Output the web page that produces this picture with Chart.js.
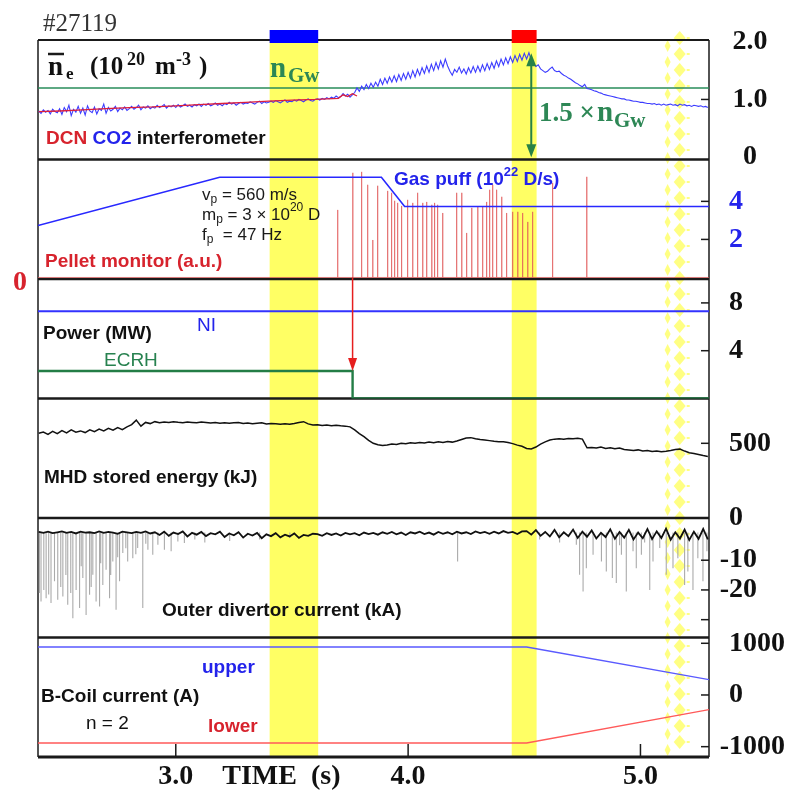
<!DOCTYPE html>
<html>
<head>
<meta charset="utf-8">
<style>
  body { margin: 0; background: #fff; }
  canvas { display: block; }
</style>
</head>
<body>
<canvas id="shot" width="794" height="799"></canvas>

<script src="https://cdn.jsdelivr.net/npm/chart.js"></script>
<script>
  // time window of the shot (s)
  let timeMin = 2.407, timeMax = 5.295;
  let timeTicks = [3, 4, 5];

  // highlighted windows (s)
  let bandStart = [3.404, 4.446];
  let bandEnd = [3.613, 4.553];
  let dotBand = [5.104, 5.212];

  // line density, CO2 interferometer, sampled every 10 ms from 2.41 s
  let co2Start = 2.41, co2Step = 0.01;
  let co2 = [
    0.80,0.76,0.82,0.78,0.81,0.75,0.83,0.79,0.77,0.84,
    0.74,0.86,0.79,0.90,0.72,0.83,0.78,0.88,0.76,0.85,
    0.73,0.89,0.80,0.77,0.87,0.75,0.84,0.81,0.92,0.76,
    0.86,0.80,0.83,0.88,0.79,0.85,0.82,0.87,0.81,0.84,
    0.88,0.83,0.86,0.90,0.82,0.87,0.85,0.89,0.84,0.87,
    0.85,0.90,0.86,0.88,0.91,0.85,0.89,0.87,0.90,0.86,
    0.91,0.87,0.89,0.92,0.88,0.90,0.87,0.91,0.89,0.92,
    0.88,0.92,0.90,0.93,0.89,0.91,0.94,0.90,0.92,0.89,
    0.93,0.91,0.95,0.92,0.94,0.90,0.93,0.95,0.92,0.94,
    0.93,0.96,0.94,0.92,0.95,0.97,0.93,0.96,0.94,0.95,
    0.97,0.95,0.98,0.96,0.94,0.97,0.99,0.95,0.97,0.96,
    0.99,0.97,1.00,0.98,0.96,0.99,1.01,0.98,0.97,1.00,
    1.01,0.99,1.02,1.00,1.03,1.01,1.04,1.02,1.06,1.03,
    1.05,1.10,1.06,1.09,1.04,1.08,
    1.12,1.20,1.14,1.23,1.17,1.26,1.19,1.28,1.21,1.30,
    1.23,1.35,1.26,1.37,1.28,1.39,1.30,1.41,1.31,1.43,
    1.33,1.45,1.35,1.47,1.37,1.50,1.39,1.52,1.42,1.55,
    1.45,1.58,1.47,1.61,1.50,1.64,1.53,1.67,1.56,1.70,
    1.58,1.49,1.42,1.52,1.47,1.56,1.46,1.53,1.44,1.55,
    1.46,1.57,1.47,1.58,1.48,1.60,1.50,1.62,1.52,1.64,
    1.54,1.67,1.57,1.70,1.60,1.72,1.62,1.74,1.64,1.76,
    1.66,1.78,1.68,1.80,1.70,1.81,1.68,1.62,1.57,1.60,
    1.53,
    1.50,1.47,1.49,1.53,1.56,1.50,1.48,1.49,1.45,1.42,
    1.40,1.37,1.35,1.32,1.29,1.27,1.24,1.22,1.26,1.19,
    1.18,1.17,1.15,1.14,1.12,1.11,1.09,1.08,1.07,1.06,
    1.05,1.04,1.03,1.02,1.01,1.01,0.99,0.99,0.98,0.97,
    0.97,0.96,0.95,0.95,0.94,0.93,0.93,0.92,0.93,0.91,
    0.92,0.90,0.92,0.90,0.91,0.92,0.90,0.91,0.89,0.92,
    0.90,0.91,0.89,0.90,0.88,0.90,0.89,0.88,0.89,0.87,
    0.88,0.86
  ];

  // DCN interferometer (only until the pellets start)
  let dcnTime = [2.41,2.50,2.60,2.70,2.80,2.90,3.00,3.10,3.20,3.30,3.40,3.50,3.60,3.65,3.70,3.72,3.74,3.76,3.78];
  let dcnVal  = [0.79,0.80,0.82,0.84,0.86,0.87,0.89,0.91,0.93,0.95,0.97,0.99,1.00,1.01,1.02,1.08,1.05,1.10,1.06];

  let nGw = 1.2;           // Greenwald density
  let nGwFactor = 1.5;     // peak density reached

  // gas puff (10^22 D/s)
  let gasTime = [2.407, 3.189, 3.885, 3.985, 5.295];
  let gasVal  = [2.73, 5.27, 5.27, 3.73, 3.73];

  // pellet monitor spikes (a.u.)
  let pelletTime = [3.697,3.762,3.800,3.826,3.848,3.869,3.912,3.929,3.942,3.955,3.972,3.998,4.020,
                    4.041,4.063,4.080,4.102,4.114,4.127,4.149,4.209,4.231,4.252,4.274,4.300,4.321,
                    4.338,4.351,4.364,4.381,4.403,4.424,4.450,4.472,4.493,4.515,4.536,4.622,4.769];
  let pelletHeight = [3.55,5.50,5.55,4.87,1.97,4.82,4.55,4.45,4.03,3.92,3.76,4.08,3.92,
                      4.45,3.92,3.97,3.82,3.92,3.82,3.39,4.45,4.45,2.34,3.66,3.71,3.71,
                      3.97,4.61,4.87,4.61,4.24,3.39,3.45,3.45,3.39,2.92,3.45,4.97,5.29];

  // heating power (MW)
  let niTime = [2.407, 5.295];
  let niVal  = [7.3, 7.3];
  let ecrhTime = [2.407, 3.761, 3.761, 5.295];
  let ecrhVal  = [2.3, 2.3, 0, 0];

  // slow signals sampled every 20 ms from 2.41 s
  let slowStart = 2.41, slowStep = 0.02;
  let mhd = [
    567,575,560,580,565,585,570,590,575,583,
    572,590,578,595,583,600,588,605,592,610,
    625,655,615,640,632,645,638,642,640,645,
    641,638,643,640,637,642,639,636,640,635,
    638,634,637,640,633,636,631,634,637,630,
    633,631,628,631,627,632,640,645,630,622,
    625,619,622,618,621,617,615,610,590,565,
    545,520,500,490,485,488,495,492,500,497,
    503,500,506,502,508,504,510,506,512,508,
    515,525,535,538,530,525,522,518,514,511,
    510,505,498,488,480,465,462,475,495,510,
    522,528,530,527,532,530,534,528,470,472,
    468,475,466,470,463,468,458,455,452,456,
    448,452,445,449,443,447,452,458,461,448,
    437,432,425,418,412
  ];
  let divertor = [
    -0.5,-0.8,-0.4,-0.9,-0.6,-0.3,-0.8,-0.5,-1.0,-0.4,-0.7,-0.6,-0.9,-0.3,-0.8,-0.5,-0.7,-1.1,-0.4,-0.6,-0.9,-0.5,-0.8,-0.3,-1.0,
    -0.6,-1.5,-0.4,-1.8,-0.7,-1.2,-0.3,-2.0,-0.8,-1.4,-0.5,-1.9,-0.9,-1.3,-0.4,-2.2,-1.0,-1.6,-0.6,-2.4,-1.1,-1.7,-0.8,-2.6,-1.3,
    -1.9,-0.9,-2.3,-1.4,-2.0,-1.0,-2.5,-1.5,-1.8,-1.1,
    -1.2,-1.8,-0.9,-1.5,-1.0,-1.7,-0.8,-1.3,-0.9,-1.6,-0.7,-1.2,-0.8,-1.4,-0.6,-1.1,-0.5,-1.3,-0.7,-1.5,-0.6,-1.0,-0.4,-1.2,-0.7,
    -1.4,-0.5,-1.1,-0.6,-1.3,-0.4,-1.0,-0.6,-1.2,-0.3,-0.9,-0.5,-1.1,-0.4,-1.0,-0.2,-0.8,-0.5,-1.2,-0.3,
    -0.2,-1.4,0.1,-1.8,-0.5,-2.0,0.2,-2.3,-0.6,-1.9,0.3,-2.5,-0.4,-2.1,0.0,-2.7,-0.8,-2.2,0.4,-2.8,
    -0.5,-2.4,0.2,-3.0,-0.7,-2.6,0.5,-2.9,-0.3,-2.5,0.6,-3.1,-0.6,-2.7,0.3,-3.2,-0.4,-2.8,0.5,-3.0
  ];

  // spikes of the outer divertor current (kA)
  let divBase = -0.7;
  let divSpikeTime = [2.413,2.420,2.432,2.442,2.453,2.463,2.478,2.492,2.505,2.514,2.527,2.535,2.548,2.557,2.571,
    2.586,2.593,2.600,2.614,2.629,2.636,2.643,2.657,2.672,2.677,2.686,2.700,2.715,2.720,2.729,2.743,2.750,
    2.758,2.772,2.785,2.793,2.815,2.828,2.836,2.858,2.871,2.880,2.901,2.923,2.951,2.980,3.009,3.037,3.082,
    3.125,3.232,3.361,3.491,4.213,4.566,4.652,4.724,4.738,4.753,4.767,4.796,4.832,4.853,4.879,4.896,4.910,
    4.918,4.939,4.968,4.982,5.004,5.018,5.040,5.054,5.083,5.111,5.140,5.161,5.190,5.204,5.226,5.247,5.269,5.286];
  let divSpikeVal = [-21,-23.9,-20,-22.8,-21.5,-24.4,-17.1,-23.3,-19,-22.2,-15,-25.0,-21,-29.5,-20.0,
    -26.1,-12,-16.0,-28.4,-21.6,-19,-14.9,-23.9,-25.6,-11,-18.3,-13.2,-22.8,-15,-10.4,-26.7,-9,
    -17.1,-7.6,-6,-10.4,-9.3,-8,-5.9,-26.1,-4.5,-6.5,-8.2,-4.8,-6.5,-7.0,-3.7,-4.2,-3,
    -4,-3.5,-3,-2.5,-10.4,-3,-4,-4.8,-14.9,-20.5,-12.7,-8.2,-10.4,-13.8,-16.0,-17.7,-5,
    -8.2,-20.5,-7.0,-12.7,-8.2,-4,-20.0,-10.4,-5.9,-14.9,-12.7,-9.3,-18.3,-13.8,-20.0,-9.3,-17.1,-7.0];

  // B-coil current (A)
  let coilTime  = [2.407, 4.51, 5.295];
  let coilUpper = [928, 928, 296];
  let coilLower = [-928, -928, -284];

  // right hand tick labels and tick marks per panel
  let denTicks = [2, 1, 0],        denMarks = [1];
  let gasTicks = [4, 2],           gasMarks = [4, 2];
  let powTicks = [8, 4],           powMarks = [8, 4];
  let mhdTicks = [500, 0],         mhdMarks = [500];
  let divTicks = [-10, -20],       divMarks = [-10, -20, -30];
  let coilTicks = [1000, 0, -1000], coilMarks = [1000, 0, -1000];

  const SANS = "'Liberation Sans', Arial, sans-serif";
  const SERIF = "'Liberation Serif', 'Times New Roman', serif";
  const GREEN = 'rgb(45,135,85)';
  const BLUE = 'rgb(35,35,235)';
  const RED = 'rgb(215,35,45)';

  function pts(ts, vs) { return ts.map((t, i) => ({x: t, y: vs[i]})); }
  function sampled(start, step, vs) { return vs.map((v, i) => ({x: +(start + i * step).toFixed(3), y: v})); }

  let pelletPts = [{x: timeMin, y: 0}];
  pelletTime.forEach((t, i) => { pelletPts.push({x: t, y: 0}, {x: t, y: pelletHeight[i]}, {x: t, y: 0}); });
  pelletPts.push({x: timeMax, y: 0});

  let spikePts = [];
  divSpikeTime.forEach((t, i) => { spikePts.push({x: t, y: divBase}, {x: t, y: divSpikeVal[i]}, {x: t, y: null}); });

  function seg(ctx, x1, y1, x2, y2) { ctx.beginPath(); ctx.moveTo(x1, y1); ctx.lineTo(x2, y2); ctx.stroke(); }
  function txt(ctx, s, x, y, font, color, align) {
    ctx.font = font; ctx.fillStyle = color; ctx.textAlign = align || 'left'; ctx.textBaseline = 'middle';
    ctx.fillText(s, x, y);
    return x + ctx.measureText(s).width;
  }
  function head(ctx, x, y, dir, w, l) {
    ctx.beginPath(); ctx.moveTo(x, y); ctx.lineTo(x - w, y - dir * l); ctx.lineTo(x + w, y - dir * l); ctx.closePath(); ctx.fill();
  }

  let panels = [
    {id: 'yDen', ticks: denTicks, marks: denMarks, color: '#111', fmt: v => v === 0 ? '0' : v.toFixed(1), center: 750},
    {id: 'yGas', ticks: gasTicks, marks: gasMarks, color: BLUE, fmt: String},
    {id: 'yPow', ticks: powTicks, marks: powMarks, color: '#111', fmt: String},
    {id: 'yMhd', ticks: mhdTicks, marks: mhdMarks, color: '#111', fmt: String},
    {id: 'yDiv', ticks: divTicks, marks: divMarks, color: '#111', fmt: String},
    {id: 'yCoil', ticks: coilTicks, marks: coilMarks, color: '#111', fmt: String}
  ];

  const overlay = {
    id: 'overlay',
    beforeDatasetsDraw(chart) {
      const {ctx, chartArea: a, scales} = chart;
      const xs = scales.x;
      ctx.save();
      // yellow windows
      ctx.fillStyle = 'rgb(255,255,100)';
      bandStart.forEach((s, i) => {
        const l = xs.getPixelForValue(s), r = xs.getPixelForValue(bandEnd[i]);
        ctx.fillRect(l, a.top, r - l, a.bottom - a.top);
      });
      // dotted window
      const dl = xs.getPixelForValue(dotBand[0]), dr = xs.getPixelForValue(dotBand[1]);
      ctx.fillStyle = 'rgb(255,255,130)';
      for (let y = a.top - 2; y < a.bottom; y += 16) {
        const cx = dl + (dr - dl) * 0.6;
        ctx.beginPath(); ctx.moveTo(cx, y - 7); ctx.lineTo(cx + 6, y); ctx.lineTo(cx, y + 7); ctx.lineTo(cx - 6, y); ctx.closePath(); ctx.fill();
        const lx = dl + 3;
        ctx.beginPath(); ctx.moveTo(lx, y + 2); ctx.lineTo(lx + 3, y + 8); ctx.lineTo(lx, y + 14); ctx.lineTo(lx - 3, y + 8); ctx.closePath(); ctx.fill();
        ctx.fillRect(dr - 3, y - 1, 3, 2);
      }
      // frame and panel separators
      ctx.strokeStyle = '#1a1a1a';
      ctx.lineWidth = 1.5;
      seg(ctx, a.left, a.top, a.left, a.bottom);
      seg(ctx, a.right, a.top, a.right, a.bottom);
      panels.forEach((p, i) => {
        const s = scales[p.id];
        ctx.lineWidth = i === 0 ? 2 : 2.5;
        seg(ctx, a.left, s.top, a.right, s.top);
      });
      ctx.lineWidth = 3;
      seg(ctx, a.left, a.bottom, a.right, a.bottom);
      ctx.restore();
    },
    afterDatasetsDraw(chart) {
      const {ctx, chartArea: a, scales} = chart;
      const xs = scales.x;
      ctx.save();

      // marks over the top frame
      ctx.fillStyle = '#0000ff';
      let l = xs.getPixelForValue(bandStart[0]), r = xs.getPixelForValue(bandEnd[0]);
      ctx.fillRect(l, a.top - 10, r - l, 13);
      ctx.fillStyle = '#ff0000';
      l = xs.getPixelForValue(bandStart[1]); r = xs.getPixelForValue(bandEnd[1]);
      ctx.fillRect(l, a.top - 10, r - l, 13);

      // right axis ticks and labels
      ctx.strokeStyle = '#1a1a1a';
      ctx.lineWidth = 1.5;
      panels.forEach(p => {
        const s = scales[p.id];
        p.marks.forEach(v => { const y = s.getPixelForValue(v); seg(ctx, a.right - 8, y, a.right, y); });
        p.ticks.forEach(v => {
          const y = s.getPixelForValue(v);
          const lab = p.fmt(v);
          ctx.font = 'bold 28px ' + SERIF;
          if (p.center) { txt(ctx, lab, p.center, y, ctx.font, p.color, 'center'); return; }
          let x = 729;
          if (lab[0] === '-') x -= ctx.measureText('-').width;
          txt(ctx, lab, x, y, ctx.font, p.color);
        });
      });

      // time axis
      timeTicks.forEach(t => {
        const x = xs.getPixelForValue(t);
        seg(ctx, x, a.bottom - 13, x, a.bottom);
        txt(ctx, t.toFixed(1), x, 777, 'bold 28px ' + SERIF, '#111', 'center');
      });
      txt(ctx, 'TIME  (s)', xs.getPixelForValue(3.2), 777, 'bold 28px ' + SERIF, '#111');

      // title
      txt(ctx, '#27119', 43, 24, '25px ' + SERIF, '#333');

      // density panel
      const yd = scales.yDen;
      txt(ctx, 'n', 48, 68, 'bold 27px ' + SERIF, '#111');
      ctx.lineWidth = 2.5; seg(ctx, 48, 54, 64, 54);
      txt(ctx, 'e', 66, 75, 'bold 17px ' + SERIF, '#111');
      txt(ctx, '(10', 90, 68, 'bold 25px ' + SERIF, '#111');
      txt(ctx, '20', 127, 60, 'bold 18px ' + SERIF, '#111');
      txt(ctx, 'm', 155, 68, 'bold 25px ' + SERIF, '#111');
      txt(ctx, '-3', 176, 60, 'bold 18px ' + SERIF, '#111');
      txt(ctx, ')', 199, 68, 'bold 25px ' + SERIF, '#111');

      txt(ctx, 'n', 270, 70, 'bold 29px ' + SERIF, GREEN);
      txt(ctx, 'Gw', 288, 77, 'bold 21px ' + SERIF, GREEN);

      let x = txt(ctx, 'DCN ', 46, 139, 'bold 19px ' + SANS, RED);
      x = txt(ctx, 'CO2 ', x, 139, 'bold 19px ' + SANS, BLUE);
      txt(ctx, 'interferometer', x, 139, 'bold 19px ' + SANS, '#111');

      // 1.5 x nGw arrow
      const ax = xs.getPixelForValue(4.53);
      const yTop = yd.getPixelForValue(nGw * nGwFactor), yBot = yd.getPixelForValue(0);
      ctx.strokeStyle = 'rgb(40,130,70)'; ctx.fillStyle = 'rgb(40,130,70)'; ctx.lineWidth = 2;
      seg(ctx, ax, yTop + 8, ax, yBot - 8);
      head(ctx, ax, yTop, -1, 5, 13);
      head(ctx, ax, yBot, 1, 5, 13);
      x = txt(ctx, '1.5 \u00d7 ', 539, 114, 'bold 27px ' + SERIF, GREEN);
      txt(ctx, 'n', 597, 114, 'bold 29px ' + SERIF, GREEN);
      txt(ctx, 'Gw', 614, 122, 'bold 21px ' + SERIF, GREEN);

      // gas puff / pellet panel
      x = txt(ctx, 'Gas puff (10', 394, 180, 'bold 19px ' + SANS, BLUE);
      x = txt(ctx, '22', x, 172, 'bold 13px ' + SANS, BLUE);
      txt(ctx, ' D/s)', x, 180, 'bold 19px ' + SANS, BLUE);
      const f17 = '17px ' + SANS, f12 = '12px ' + SANS;
      x = txt(ctx, 'v', 202, 195, f17, '#1a1a1a');
      x = txt(ctx, 'p', x, 200, f12, '#1a1a1a');
      txt(ctx, ' = 560 m/s', x, 195, f17, '#1a1a1a');
      x = txt(ctx, 'm', 202, 215, f17, '#1a1a1a');
      x = txt(ctx, 'p', x, 220, f12, '#1a1a1a');
      x = txt(ctx, ' = 3 \u00d7 10', x, 215, f17, '#1a1a1a');
      x = txt(ctx, '20', x, 208, f12, '#1a1a1a');
      txt(ctx, ' D', x, 215, f17, '#1a1a1a');
      x = txt(ctx, 'f', 202, 235, f17, '#1a1a1a');
      x = txt(ctx, 'p', x, 240, f12, '#1a1a1a');
      txt(ctx, '  = 47 Hz', x, 235, f17, '#1a1a1a');
      txt(ctx, 'Pellet monitor (a.u.)', 45, 262, 'bold 19px ' + SANS, RED);
      txt(ctx, '0', 20, scales.yGas.getPixelForValue(0) + 5, 'bold 28px ' + SERIF, RED, 'center');

      // pellet -> ECRH off arrow
      const rx = xs.getPixelForValue(ecrhTime[1]);
      const ry = scales.yPow.getPixelForValue(ecrhVal[1]);
      ctx.strokeStyle = 'rgb(230,30,30)'; ctx.fillStyle = 'rgb(230,30,30)'; ctx.lineWidth = 1.5;
      seg(ctx, rx, scales.yGas.getPixelForValue(0), rx, ry - 10);
      head(ctx, rx, ry, 1, 4.5, 13);

      // power panel
      txt(ctx, 'Power (MW)', 43, 334, 'bold 19px ' + SANS, '#111');
      txt(ctx, 'NI', 197, 326, '19px ' + SANS, BLUE);
      txt(ctx, 'ECRH', 104, 361, '19px ' + SANS, 'rgb(40,130,80)');

      txt(ctx, 'MHD stored energy (kJ)', 44, 478, 'bold 19px ' + SANS, '#111');
      txt(ctx, 'Outer divertor current (kA)', 162, 611, 'bold 19px ' + SANS, '#111');

      txt(ctx, 'upper', 202, 668, 'bold 19px ' + SANS, BLUE);
      txt(ctx, 'B-Coil current (A)', 41, 697, 'bold 19px ' + SANS, '#111');
      txt(ctx, 'n = 2', 86, 724, '19px ' + SANS, '#111');
      txt(ctx, 'lower', 208, 727, 'bold 19px ' + SANS, RED);

      ctx.restore();
    }
  };

  function yScale(min, max) {
    return {type: 'linear', position: 'right', stack: 'panels', stackWeight: 1, min: min, max: max, display: false};
  }

  function line(data, axis, color, width) {
    return {type: 'line', data: data, yAxisID: axis, borderColor: color, borderWidth: width,
            pointRadius: 0, tension: 0, fill: false};
  }

  let config = {
    type: 'line',
    data: {
      datasets: [
        line(pts(dcnTime, dcnVal), 'yDen', 'rgb(220,30,60)', 1.3),
        line(sampled(co2Start, co2Step, co2), 'yDen', 'rgb(60,60,255)', 1.1),
        line([{x: timeMin, y: nGw}, {x: timeMax, y: nGw}], 'yDen', 'rgb(40,140,90)', 1.5),
        line(pts(gasTime, gasVal), 'yGas', 'rgb(40,40,255)', 1.6),
        line(pelletPts, 'yGas', 'rgba(225,90,90,0.7)', 1),
        line(pts(niTime, niVal), 'yPow', 'rgb(50,50,255)', 2.2),
        line(pts(ecrhTime, ecrhVal), 'yPow', 'rgb(35,125,70)', 2.4),
        line(sampled(slowStart, slowStep, mhd), 'yMhd', '#111', 1.5),
        line(sampled(slowStart, slowStep, divertor), 'yDiv', '#111', 1.8),
        line(spikePts, 'yDiv', 'rgb(170,170,170)', 1.1),
        line(pts(coilTime, coilUpper), 'yCoil', 'rgb(90,90,255)', 1.4),
        line(pts(coilTime, coilLower), 'yCoil', 'rgb(255,90,90)', 1.4)
      ]
    },
    options: {
      responsive: false,
      animation: false,
      devicePixelRatio: 1,
      events: [],
      layout: {padding: {left: 38, right: 85, top: 40, bottom: 42}},
      plugins: {legend: {display: false}, tooltip: {enabled: false}},
      scales: {
        x: {type: 'linear', min: timeMin, max: timeMax, display: false},
        yDen: yScale(-0.04, 2.03),
        yGas: yScale(-0.08, 6.2),
        yPow: yScale(0, 10),
        yMhd: yScale(0, 800),
        yDiv: yScale(-36, 4.2),
        yCoil: yScale(-1200, 1112)
      }
    },
    plugins: [overlay]
  };

  let shotChart = new Chart(document.getElementById('shot'), config);
</script>
</body>
</html>
